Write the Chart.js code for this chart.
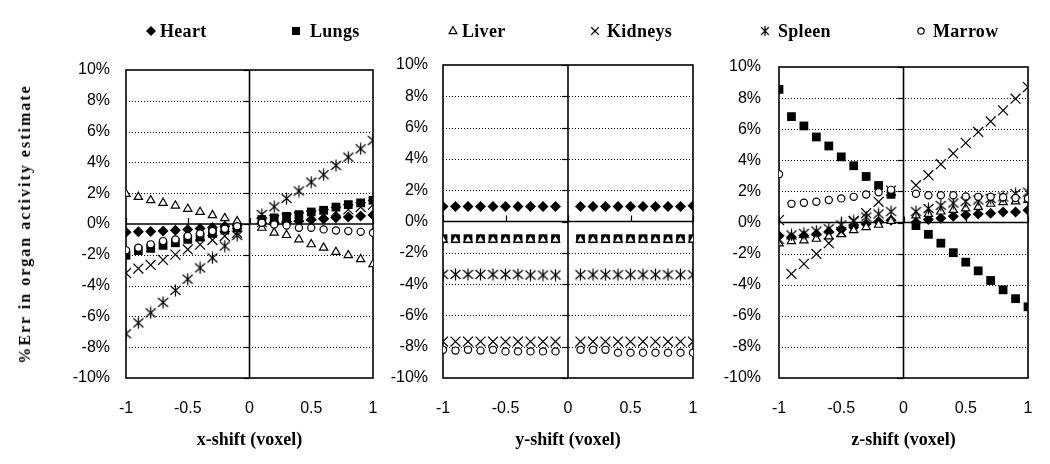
<!DOCTYPE html>
<html>
<head>
<meta charset="utf-8">
<script src="https://cdn.jsdelivr.net/npm/chart.js@4.4.0/dist/chart.umd.min.js"></script>
<style>
  html, body { margin: 0; padding: 0; background: #fff; }
  body { width: 1050px; height: 464px; position: relative; overflow: hidden; }
  canvas.panel { position: absolute; top: 0; }
  .legTxt { position: absolute; top: 19px; font: bold 18px "Liberation Serif", serif; color: #000; line-height: 24px; letter-spacing: 0.3px; white-space: nowrap; }
  .legMk { position: absolute; top: 24px; }
  .ytitle { position: absolute; left: 25px; top: 224px; transform: translate(-50%, -50%) rotate(-90deg);
            font: bold 16px "Liberation Serif", serif; letter-spacing: 2px; white-space: nowrap; color: #000; }
</style>
</head>
<body>
<canvas id="p1" class="panel" width="390" height="464" style="left:0px;width:390px;height:464px"></canvas>
<canvas id="p2" class="panel" width="330" height="464" style="left:390px;width:330px;height:464px"></canvas>
<canvas id="p3" class="panel" width="330" height="464" style="left:720px;width:330px;height:464px"></canvas>
<div class="ytitle">%Err in organ activity estimate</div>
<div id="legend"></div>
<script>
// ---------------- data ----------------
const xShifts = [-1, -0.9, -0.8, -0.7, -0.6, -0.5, -0.4, -0.3, -0.2, -0.1,
                  0.1, 0.2, 0.3, 0.4, 0.5, 0.6, 0.7, 0.8, 0.9, 1];
const organNames = ['Heart', 'Lungs', 'Liver', 'Kidneys', 'Spleen', 'Marrow'];

const xTicks = [-1, -0.5, 0, 0.5, 1];
const xTickLabels = ['-1', '-0.5', '0', '0.5', '1'];
const yTicks = [-10, -8, -6, -4, -2, 0, 2, 4, 6, 8, 10];
const yTickLabels = ['-10%', '-8%', '-6%', '-4%', '-2%', '0%', '2%', '4%', '6%', '8%', '10%'];
const xTitles = ['x-shift (voxel)', 'y-shift (voxel)', 'z-shift (voxel)'];

// x-shift panel (% error)
const heartX   = [-0.53, -0.5, -0.48, -0.45, -0.4, -0.35, -0.3, -0.22, -0.15, -0.1,
                   0.05, 0.1, 0.15, 0.2, 0.28, 0.33, 0.4, 0.45, 0.52, 0.58];
const lungsX   = [-2.03, -1.73, -1.58, -1.39, -1.22, -1.0, -0.85, -0.61, -0.4, -0.25,
                   0.29, 0.4, 0.5, 0.61, 0.78, 0.89, 1.1, 1.26, 1.37, 1.54];
const liverX   = [1.95, 1.75, 1.54, 1.37, 1.19, 0.98, 0.78, 0.57, 0.38, 0.18,
                  -0.25, -0.57, -0.72, -1.0, -1.32, -1.54, -1.82, -2.03, -2.29, -2.61];
const kidneysX = [-3.19, -2.89, -2.66, -2.33, -1.99, -1.65, -1.34, -1.04, -0.78, -0.57,
                   0.12, 0.25, 0.35, 0.45, 0.55, 0.65, 0.8, 0.95, 1.1, 1.25];
const spleenX  = [-7.13, -6.42, -5.77, -5.09, -4.31, -3.58, -2.85, -2.2, -1.43, -0.74,
                   0.62, 1.12, 1.66, 2.14, 2.72, 3.2, 3.8, 4.34, 4.88, 5.42];
const marrowX  = [-1.71, -1.54, -1.32, -1.11, -1.0, -0.78, -0.61, -0.46, -0.31, -0.14,
                   0.08, -0.03, -0.1, -0.25, -0.25, -0.35, -0.42, -0.46, -0.51, -0.57];

// y-shift panel
const heartY   = [0.96, 0.96, 0.96, 0.96, 0.96, 0.96, 0.96, 0.96, 0.96, 0.96,
                  0.96, 0.96, 0.96, 0.96, 0.96, 0.96, 0.96, 0.96, 0.96, 1.0];
const lungsY   = [-1.1, -1.1, -1.1, -1.1, -1.1, -1.1, -1.1, -1.1, -1.1, -1.1,
                  -1.1, -1.1, -1.1, -1.1, -1.1, -1.1, -1.1, -1.1, -1.1, -1.1];
const liverY   = [-1.17, -1.17, -1.17, -1.17, -1.17, -1.17, -1.17, -1.17, -1.17, -1.17,
                  -1.17, -1.17, -1.17, -1.17, -1.17, -1.17, -1.17, -1.17, -1.17, -1.17];
const kidneysY = [-7.67, -7.67, -7.67, -7.67, -7.67, -7.67, -7.67, -7.67, -7.67, -7.67,
                  -7.67, -7.67, -7.67, -7.67, -7.67, -7.67, -7.67, -7.67, -7.67, -7.67];
const spleenY  = [-3.38, -3.38, -3.38, -3.38, -3.38, -3.38, -3.38, -3.42, -3.42, -3.42,
                  -3.4, -3.4, -3.4, -3.4, -3.4, -3.4, -3.4, -3.4, -3.4, -3.4];
const marrowY  = [-8.2, -8.25, -8.2, -8.25, -8.2, -8.3, -8.3, -8.3, -8.3, -8.3,
                  -8.2, -8.2, -8.2, -8.38, -8.38, -8.38, -8.38, -8.38, -8.38, -8.38];

// z-shift panel
const heartZ   = [-0.85, -0.95, -0.85, -0.75, -0.6, -0.45, -0.3, -0.1, 0.05, 0.15,
                   0.0, 0.2, 0.27, 0.4, 0.48, 0.55, 0.6, 0.68, 0.68, 0.78];
const lungsZ   = [8.56, 6.81, 6.21, 5.5, 4.92, 4.22, 3.65, 2.96, 2.38, 1.81,
                  -0.2, -0.76, -1.33, -1.94, -2.55, -3.11, -3.73, -4.33, -4.9, -5.42];
const liverZ   = [-1.35, -1.2, -1.15, -1.05, -0.9, -0.75, -0.5, -0.3, -0.15, 0.1,
                   0.45, 0.55, 0.7, 0.8, 0.9, 1.0, 1.2, 1.3, 1.35, 1.45];
const kidneysZ = [0.16, -3.3, -2.66, -2.02, -1.33, -0.6, 0.1, 0.6, 1.33, 2.05,
                  2.4, 3.04, 3.75, 4.44, 5.12, 5.82, 6.5, 7.21, 7.96, 8.71];
const spleenZ  = [-1.1, -0.8, -0.7, -0.55, -0.4, -0.15, 0.1, 0.35, 0.55, 0.7,
                   0.7, 0.9, 1.1, 1.25, 1.35, 1.45, 1.55, 1.65, 1.85, 1.95];
const marrowZ  = [3.1, 1.2, 1.27, 1.33, 1.45, 1.55, 1.65, 1.8, 1.95, 2.1,
                  1.85, 1.75, 1.75, 1.75, 1.68, 1.65, 1.65, 1.62, 1.58, 1.55];

// ---------------- markers ----------------
function drawMarker(ctx, kind, cx, cy, r) {
  ctx.save();
  ctx.strokeStyle = '#000'; ctx.fillStyle = '#000'; ctx.lineWidth = 1.2;
  ctx.beginPath();
  if (kind === 'diamond') {
    ctx.moveTo(cx, cy - r); ctx.lineTo(cx + r, cy); ctx.lineTo(cx, cy + r); ctx.lineTo(cx - r, cy); ctx.closePath(); ctx.fill();
  } else if (kind === 'square') {
    ctx.rect(cx - r * 0.8, cy - r * 0.8, r * 1.6, r * 1.6); ctx.fill();
  } else if (kind === 'triangle') {
    ctx.moveTo(cx, cy - r); ctx.lineTo(cx + r * 0.87, cy + r * 0.6); ctx.lineTo(cx - r * 0.87, cy + r * 0.6); ctx.closePath();
    ctx.fillStyle = '#fff'; ctx.fill(); ctx.stroke();
  } else if (kind === 'cross') {
    ctx.moveTo(cx - r * 0.75, cy - r * 0.75); ctx.lineTo(cx + r * 0.75, cy + r * 0.75);
    ctx.moveTo(cx + r * 0.75, cy - r * 0.75); ctx.lineTo(cx - r * 0.75, cy + r * 0.75); ctx.stroke();
  } else if (kind === 'star') {
    ctx.moveTo(cx - r * 0.75, cy - r * 0.75); ctx.lineTo(cx + r * 0.75, cy + r * 0.75);
    ctx.moveTo(cx + r * 0.75, cy - r * 0.75); ctx.lineTo(cx - r * 0.75, cy + r * 0.75);
    ctx.moveTo(cx, cy - r); ctx.lineTo(cx, cy + r); ctx.stroke();
  } else if (kind === 'circle') {
    ctx.arc(cx, cy, r * 0.7, 0, Math.PI * 2); ctx.fillStyle = '#fff'; ctx.fill(); ctx.stroke();
  }
  ctx.restore();
}

// spleen point style: X with a vertical bar
const starImg = document.createElement('canvas');
starImg.width = 13; starImg.height = 13;
(function () {
  const c = starImg.getContext('2d');
  c.strokeStyle = '#000'; c.lineWidth = 1.2; c.beginPath();
  c.moveTo(1.5, 2); c.lineTo(11.5, 11); c.moveTo(11.5, 2); c.lineTo(1.5, 11);
  c.moveTo(6.5, 0.5); c.lineTo(6.5, 12.5); c.stroke();
})();

const organStyles = [
  { pointStyle: 'rectRot',  radius: 5.5, fill: '#000', bw: 0 },
  { pointStyle: 'rect',     radius: 6.2, fill: '#000', bw: 0 },
  { pointStyle: 'triangle', radius: 4.8, fill: '#fff', bw: 1.2 },
  { pointStyle: 'crossRot', radius: 7,   fill: '#000', bw: 1.2 },
  { pointStyle: starImg,    radius: 6,   fill: '#000', bw: 1.2 },
  { pointStyle: 'circle',   radius: 3.6, fill: '#fff', bw: 1.2 }
];

// ---------------- legend ----------------
const legendMarkers = ['diamond', 'square', 'triangle', 'cross', 'star', 'circle'];
const legendMarkX = [151, 296, 453, 595, 765, 921];
const legendTextX = [160, 310, 462, 607, 778, 933];
const legendEl = document.getElementById('legend');
organNames.forEach((name, i) => {
  const c = document.createElement('canvas');
  c.width = 14; c.height = 14; c.className = 'legMk';
  c.style.left = (legendMarkX[i] - 7) + 'px';
  drawMarker(c.getContext('2d'), legendMarkers[i], 7, 7, [5, 5, 4.5, 5, 5, 4.5][i]);
  legendEl.appendChild(c);
  const t = document.createElement('div');
  t.className = 'legTxt'; t.textContent = name; t.style.left = legendTextX[i] + 'px';
  legendEl.appendChild(t);
});

// ---------------- frame plugin ----------------
const panelFrame = {
  id: 'panelFrame',
  beforeDatasetsDraw(chart) {
    const { ctx, chartArea: a, scales: { x, y } } = chart;
    ctx.save();
    ctx.strokeStyle = '#000';
    // dotted gridlines
    ctx.lineWidth = 1;
    ctx.setLineDash([1, 2]);
    yTicks.forEach(v => {
      if (v === 0 || v === yTicks[0] || v === yTicks[yTicks.length - 1]) return;
      const py = Math.round(y.getPixelForValue(v)) + 0.5;
      ctx.beginPath(); ctx.moveTo(a.left, py); ctx.lineTo(a.right, py); ctx.stroke();
    });
    ctx.setLineDash([]);
    // tick marks on vertical zero axis
    const px0 = x.getPixelForValue(0);
    ctx.lineWidth = 1.2;
    yTicks.forEach(v => {
      const py = Math.round(y.getPixelForValue(v)) + 0.5;
      ctx.beginPath(); ctx.moveTo(px0 - 6, py); ctx.lineTo(px0, py); ctx.stroke();
    });
    // tick marks on horizontal zero axis
    const py0 = y.getPixelForValue(0);
    xTicks.forEach(v => {
      const px = Math.round(x.getPixelForValue(v)) + 0.5;
      ctx.beginPath(); ctx.moveTo(px, py0); ctx.lineTo(px, py0 - 6); ctx.stroke();
    });
    // zero lines
    ctx.lineWidth = 1.6;
    ctx.beginPath(); ctx.moveTo(a.left, py0); ctx.lineTo(a.right, py0); ctx.stroke();
    ctx.beginPath(); ctx.moveTo(px0, a.top); ctx.lineTo(px0, a.bottom); ctx.stroke();
    // border
    ctx.lineWidth = 1.6;
    ctx.strokeRect(a.left, a.top, a.right - a.left, a.bottom - a.top);
    ctx.restore();
  }
};

// ---------------- panels ----------------
const tickFont = { family: '"Liberation Sans", Arial, sans-serif', size: 16 };

function makePanel(id, series, p) {
  const datasets = organNames.map((name, i) => ({
    label: name,
    data: xShifts.map((xv, k) => ({ x: xv, y: series[i][k] })),
    showLine: false,
    pointStyle: organStyles[i].pointStyle,
    pointRadius: organStyles[i].radius,
    pointHoverRadius: organStyles[i].radius,
    pointBackgroundColor: organStyles[i].fill,
    pointBorderColor: '#000',
    pointBorderWidth: organStyles[i].bw,
    order: organNames.length - i
  }));
  new Chart(document.getElementById(id), {
    type: 'scatter',
    data: { datasets },
    options: {
      responsive: false,
      animation: false,
      devicePixelRatio: 1,
      events: [],
      layout: { autoPadding: false, padding: { left: 0, top: p.top, right: p.right, bottom: 0 } },
      plugins: { legend: { display: false }, tooltip: { enabled: false } },
      scales: {
        x: {
          type: 'linear', min: -1, max: 1,
          afterBuildTicks: s => { s.ticks = xTicks.map(v => ({ value: v })); },
          afterFit: s => { s.height = p.xh; s.paddingLeft = 0; s.paddingRight = 0; },
          ticks: {
            callback: v => xTickLabels[xTicks.indexOf(v)],
            font: tickFont, color: '#000', padding: p.xpad, autoSkip: false, maxRotation: 0
          },
          grid: { display: false, drawTicks: false },
          border: { display: false },
          title: {
            display: true, text: p.xTitle, color: '#000',
            font: { family: '"Liberation Serif", serif', size: 18, weight: 'bold' },
            padding: { top: 0, bottom: p.titlePad }
          }
        },
        y: {
          type: 'linear', min: -10, max: 10,
          afterBuildTicks: s => { s.ticks = yTicks.map(v => ({ value: v })); },
          afterFit: s => { s.width = p.yw; s.paddingTop = 0; s.paddingBottom = 0; },
          ticks: {
            callback: v => yTickLabels[yTicks.indexOf(v)],
            font: tickFont, color: '#000', padding: p.ypad, autoSkip: false
          },
          grid: { display: false, drawTicks: false },
          border: { display: false }
        }
      }
    },
    plugins: [panelFrame]
  });
}

makePanel('p1', [heartX, lungsX, liverX, kidneysX, spleenX, marrowX],
  { top: 70, right: 17, yw: 126, ypad: 16, xh: 86, xpad: 21, titlePad: 13, xTitle: xTitles[0] });
makePanel('p2', [heartY, lungsY, liverY, kidneysY, spleenY, marrowY],
  { top: 65, right: 27, yw: 53, ypad: 15, xh: 86, xpad: 21, titlePad: 13, xTitle: xTitles[1] });
makePanel('p3', [heartZ, lungsZ, liverZ, kidneysZ, spleenZ, marrowZ],
  { top: 67, right: 22, yw: 59, ypad: 18, xh: 86, xpad: 21, titlePad: 13, xTitle: xTitles[2] });
</script>
</body>
</html>
